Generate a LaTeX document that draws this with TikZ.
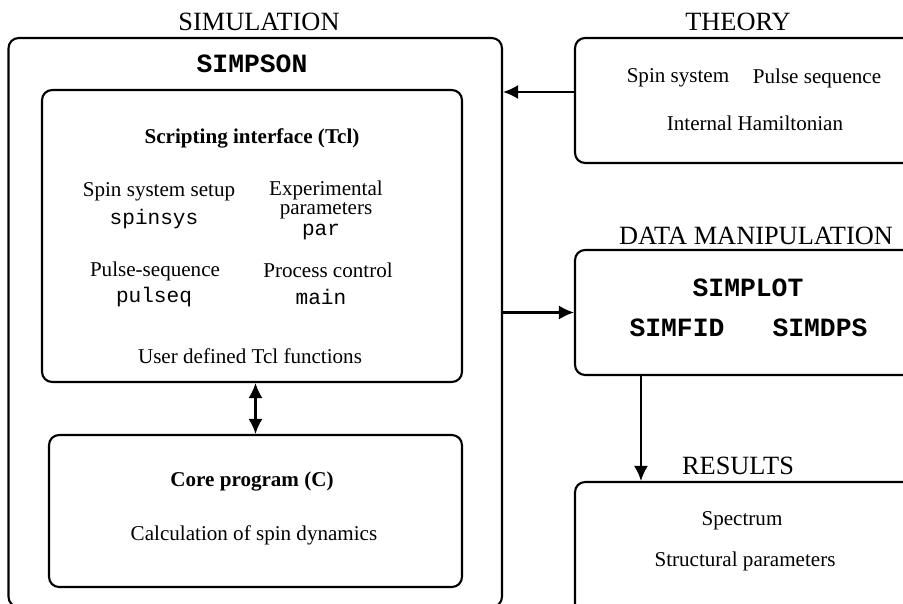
\documentclass[tikz,border=0pt]{standalone}
\usepackage{fontspec}
\setmainfont{Liberation Serif}
\setmonofont{Liberation Mono}
\usetikzlibrary{arrows.meta}

\tikzset{
  panel/.style={draw, line width=1.2pt, rounded corners=0.2cm},
  title/.style={font=\fontsize{15}{17}\selectfont},
  prog/.style={font=\fontsize{15}{17}\selectfont\ttfamily\bfseries},
  txt/.style={font=\fontsize{12}{12}\selectfont},
  cmd/.style={font=\fontsize{12}{12}\selectfont\ttfamily},
  head/.style={font=\fontsize{12}{14}\selectfont\bfseries},
}

\begin{document}
\begin{tikzpicture}[x=0.02cm, y=-0.02cm, line width=1.2pt,
    >={Latex[length=3mm,width=2.8mm]}]
    \useasboundingbox (0,0) rectangle (903,604);
    \clip (0,0) rectangle (903,604);

    % boxes
    \node [panel, minimum width=9.87cm, minimum height=11.38cm] (simpson) at (255.25, 322.5) {};
    \node [panel, minimum width=8.4cm, minimum height=5.84cm] (script) at (252, 236) {};
    \node [panel, minimum width=8.26cm, minimum height=3.04cm] (core) at (255.5, 511) {};
    \node [panel, minimum width=7cm, minimum height=2.5cm] (theory) at (750, 100.5) {};
    \node [panel, minimum width=7cm, minimum height=2.5cm] (data) at (750, 312.5) {};
    \node [panel, minimum width=7cm, minimum height=3.16cm] (results) at (750, 561) {};

    % titles
    \node [title] (simlbl) at (259, 22) {SIMULATION};
    \node [title] (thlbl) at (738, 22) {THEORY};
    \node [title] (datalbl) at (756, 236) {DATA MANIPULATION};
    \node [title] (reslbl) at (738, 466) {RESULTS};

    % simulation
    \node [prog] (simpsonname) at (252, 64) {SIMPSON};
    \node [head] (scripthead) at (252, 138) {Scripting interface (Tcl)};
    \node [txt] (spinlbl) at (159, 192) {Spin system setup};
    \node [cmd] (spinsys) at (154, 219) {spinsys};
    \node [txt] (explbl) at (326, 190) {Experimental};
    \node [txt] (parlbl) at (326, 211) {parameters};
    \node [cmd] (par) at (321, 232) {par};
    \node [txt] (pulselbl) at (155, 271) {Pulse-sequence};
    \node [cmd] (pulseq) at (154, 297) {pulseq};
    \node [txt] (proclbl) at (328, 270) {Process control};
    \node [cmd] (main) at (321, 297) {main};
    \node [txt] (userlbl) at (250, 356) {User defined Tcl functions};
    \node [head] (corehead) at (252, 482) {Core program (C)};
    \node [txt] (calclbl) at (254, 535) {Calculation of spin dynamics};

    % theory
    \node [txt] (spinsyslbl) at (678, 78) {Spin system};
    \node [txt] (pulseqlbl) at (817, 78) {Pulse sequence};
    \node [txt] (hamlbl) at (755, 123) {Internal Hamiltonian};

    % data manipulation
    \node [prog] (simplot) at (748, 288) {SIMPLOT};
    \node [prog] (simfid) at (677, 328) {SIMFID};
    \node [prog] (simdps) at (820, 328) {SIMDPS};

    % results
    \node [txt] (speclbl) at (742, 521) {Spectrum};
    \node [txt] (structlbl) at (745, 561) {Structural parameters};

    % connectors
    \coordinate (thin) at ([yshift=0.17cm]theory.west);
    \coordinate (dout) at ([xshift=1.34cm]data.south west);
    \draw [->] (thin) -- (thin -| simpson.east);
    \draw [->] (data.west -| simpson.east) -- (data.west);
    \draw [->] (dout) -- (dout |- results.north);
    \draw [<->] (core.north |- script.south) -- (core.north);
\end{tikzpicture}
\end{document}
